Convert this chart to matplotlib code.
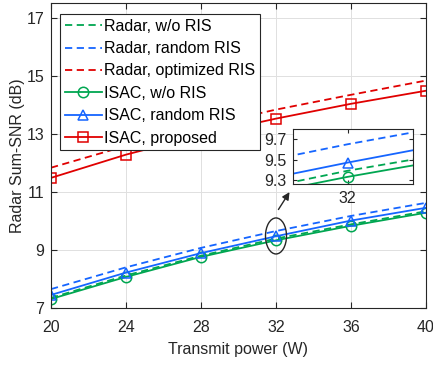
import matplotlib
matplotlib.use('Agg')
import matplotlib.pyplot as plt
from matplotlib.patches import Ellipse

plt.rcParams['font.family'] = ['Liberation Sans', 'DejaVu Sans']
plt.rcParams['font.size'] = 11.5

power = [20, 24, 28, 32, 36, 40]
radar_wo = [7.35, 8.12, 8.80, 9.39, 9.88, 10.33]
radar_rand = [7.65, 8.40, 9.07, 9.65, 10.17, 10.62]
radar_opt = [11.83, 12.58, 13.25, 13.83, 14.34, 14.83]
isac_wo = [7.31, 8.07, 8.76, 9.33, 9.83, 10.28]
isac_rand = [7.45, 8.22, 8.89, 9.47, 10.01, 10.45]
isac_prop = [11.48, 12.28, 12.95, 13.52, 14.03, 14.48]

GREEN = '#00A651'
BLUE = '#1565FF'
RED = '#E00000'
DASH = (0, (4, 2.5))


def draw_lines(ax, with_labels=True):
    lab = (lambda s: s) if with_labels else (lambda s: None)
    ax.plot(power, radar_wo, color=GREEN, ls=DASH, lw=1.3, label=lab('Radar, w/o RIS'))
    ax.plot(power, radar_rand, color=BLUE, ls=DASH, lw=1.3, label=lab('Radar, random RIS'))
    ax.plot(power, radar_opt, color=RED, ls=DASH, lw=1.3, label=lab('Radar, optimized RIS'))
    ax.plot(power, isac_wo, color=GREEN, lw=1.3, marker='o', ms=7.5, mfc='none', mew=1.1,
            label=lab('ISAC, w/o RIS'))
    ax.plot(power, isac_rand, color=BLUE, lw=1.3, marker='^', ms=7.5, mfc='none', mew=1.1,
            label=lab('ISAC, random RIS'))
    ax.plot(power, isac_prop, color=RED, lw=1.3, marker='s', ms=6.5, mfc='none', mew=1.1,
            label=lab('ISAC, proposed'))


fig = plt.figure(figsize=(4.33, 3.65), dpi=100)
ax = fig.add_axes([51 / 433, 57 / 365, 375 / 433, 305 / 365])
draw_lines(ax)
ax.set_xlim(20, 40)
ax.set_ylim(7, 17.5)
ax.set_xticks(power)
ax.set_yticks([7, 9, 11, 13, 15, 17])
ax.grid(True, color='0.88', lw=0.7)
ax.set_axisbelow(True)
ax.tick_params(direction='in', top=True, right=True, length=4, width=0.8, colors='0.15',
               labelcolor='0.15', labelsize=11.5)
ax.tick_params(axis='x', pad=9)
ax.tick_params(axis='y', pad=5)
for s in ax.spines.values():
    s.set_color('0.15')
    s.set_linewidth(0.8)
ax.set_xlabel('Transmit power (W)', color='0.15', labelpad=5)
ax.set_ylabel('Radar Sum-SNR (dB)', color='0.15', labelpad=1)

leg = ax.legend(loc='upper left', bbox_to_anchor=(9 / 375, 1 - 11 / 305), borderaxespad=0,
                fancybox=False, framealpha=1, edgecolor='0.15', handlelength=2.3,
                handletextpad=0.15, labelspacing=0.46, borderpad=0.3, fontsize=11.5)
leg.get_frame().set_linewidth(0.8)

# zoom marker and arrow
ax.add_patch(Ellipse((32, 9.48), 1.12, 1.24, fill=False, ec='0.15', lw=1.0, zorder=5))
ax.annotate('', xy=(32.8, 11.07), xytext=(32.05, 10.31),
            arrowprops=dict(arrowstyle='-|>', color='0.15', lw=1.0, mutation_scale=11))

# inset
axi = fig.add_axes([293 / 433, 181 / 365, 120 / 433, 55 / 365])
draw_lines(axi, with_labels=False)
axi.set_xlim(31.25, 32.9)
axi.set_ylim(9.26, 9.8)
axi.set_xticks([32])
axi.set_yticks([9.3, 9.5, 9.7])
axi.tick_params(direction='in', top=True, right=True, length=3, width=0.8, colors='0.15',
                labelcolor='0.15', labelsize=11.5, pad=5)
for s in axi.spines.values():
    s.set_color('0.15')
    s.set_linewidth(0.8)

fig.savefig('out.png', dpi=100)
